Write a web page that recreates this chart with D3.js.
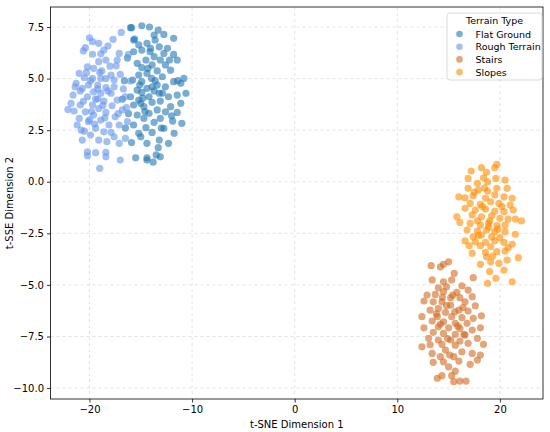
<!DOCTYPE html>
<html><head><meta charset="utf-8">
<script src="https://cdn.jsdelivr.net/npm/d3@7"></script>
<style>body{margin:0;background:#fff}svg{display:block}</style>
</head><body>
<script>
const categories = ["Flat Ground","Rough Terrain","Stairs","Slopes"];
const colors = ["#1f77b4","#6495ED","#D2691E","#FF8C00"];
const xTicks = [-20,-10,0,10,20];
const yTicks = [-10,-7.5,-5,-2.5,0,2.5,5,7.5];

const flatGround = [
[-15.9,7.47],[-14.9,7.56],[-14.15,7.5],[-13.3,7.35],[-12.75,7.14],[-13.7,7.11],[-11.8,6.95],[-15.6,6.92],[-13.6,6.87],[-14.4,6.71],
[-15.2,6.63],[-13.2,6.54],[-14.05,6.47],[-12.4,6.47],[-15.7,6.3],[-14.9,6.38],[-12.75,6.22],[-11.8,6.17],[-13.7,6.06],[-14.5,5.9],
[-13.1,5.9],[-11.45,5.9],[-15.35,5.74],[-12.6,5.66],[-13.9,5.66],[-14.9,5.53],[-12.1,5.41],[-13.4,5.37],[-14.4,5.25],[-15.2,5.17],
[-12.9,5.09],[-13.95,5.01],[-10.8,5.01],[-15.8,4.93],[-14.9,4.85],[-11.8,4.85],[-11.1,4.77],[-13.4,4.69],[-12.6,4.6],[-14.4,4.53],
[-15.35,4.44],[-13.7,4.4],[-14.9,4.33],[-13.2,4.29],[-10.6,4.29],[-11.45,4.2],[-16.0,4.12],[-14.2,4.12],[-12.3,4.12],[-15.2,3.96],
[-13.1,3.91],[-13.9,3.85],[-11.1,3.8],[-15.7,3.72],[-14.7,3.64],[-12.1,3.64],[-13.4,3.48],[-14.2,3.32],[-12.6,3.39],[-11.45,3.36],
[-15.35,3.23],[-14.7,3.07],[-13.1,3.07],[-11.9,2.94],[-13.7,2.88],[-11.0,2.83],[-15.7,2.75],[-14.5,2.62],[-12.75,2.59],[-15.2,2.35],
[-13.9,2.39],[-11.75,2.35],[-15.0,2.18],[-13.2,2.02],[-14.4,1.86],[-12.3,1.86],[-13.3,1.65],[-15.5,1.16],[-14.4,1.16],[-13.1,1.21],
[-16.0,7.47],[-15.7,6.87],[-14.4,1.05],[-13.8,0.95],[-16.3,6.0],[-16.6,4.9],[-16.2,3.3],[-16.5,2.6],[-15.9,1.9],[-16.8,4.0],
[-15.0,3.8],[-13.6,4.9],[-14.3,5.5],[-12.9,4.3],[-14.6,3.4],[-13.0,2.6],[-14.1,6.3],[-12.2,5.9],[-15.1,4.7],[-13.9,4.6],
[-14.8,4.05],[-12.0,3.2],[-11.4,4.9],[-13.5,1.3]
];
const roughTerrain = [
[-16.9,7.24],[-20.0,6.98],[-19.7,6.79],[-19.1,6.71],[-18.2,6.59],[-18.6,6.38],[-20.6,6.34],[-19.7,6.18],[-17.1,6.22],[-16.2,6.18],
[-18.4,5.9],[-19.1,5.82],[-20.2,5.57],[-17.4,5.62],[-19.6,5.5],[-18.8,5.37],[-21.0,5.25],[-17.9,5.17],[-17.0,5.2],[-20.5,5.04],
[-19.7,5.01],[-18.9,5.01],[-17.6,4.93],[-21.3,4.77],[-20.1,4.69],[-19.2,4.69],[-16.0,4.88],[-18.4,4.56],[-20.7,4.53],[-19.6,4.36],
[-18.9,4.29],[-17.9,4.29],[-21.6,4.2],[-20.2,4.12],[-16.5,4.12],[-19.2,4.01],[-18.6,3.91],[-17.3,3.96],[-20.9,3.72],[-19.7,3.72],
[-17.8,3.68],[-19.1,3.55],[-21.5,3.43],[-20.4,3.39],[-16.8,3.48],[-18.4,3.36],[-19.6,3.23],[-17.5,3.15],[-21.0,3.07],[-18.9,2.99],
[-20.1,2.91],[-16.3,2.91],[-21.2,2.75],[-18.1,2.75],[-17.1,2.75],[-19.4,2.59],[-20.5,2.45],[-18.6,2.42],[-19.9,2.26],[-17.6,2.18],
[-20.7,2.02],[-19.1,2.02],[-16.5,2.1],[-18.3,1.94],[-17.1,1.86],[-20.2,1.45],[-19.4,1.41],[-18.4,1.43],[-18.4,1.21],[-20.2,1.26],
[-17.0,1.05],[-19.0,0.65],
[-19.9,4.9],[-18.2,4.4],[-19.4,4.0],[-20.6,3.9],[-18.7,3.7],[-17.6,4.6],[-19.8,3.4],[-18.5,3.1],[-20.9,4.4],[-17.2,3.3],
[-19.0,5.3],[-20.3,5.3],[-18.0,5.6],[-21.8,3.8],[-16.7,4.5],[-19.5,2.8],[-20.8,2.5],[-17.9,2.4],[-18.9,6.2],[-21.4,4.6],
[-19.2,4.5],[-18.4,5.0],[-20.0,3.0],[-17.3,5.9],[-16.4,3.6],[-22.1,3.5],[-20.4,6.5],[-17.7,6.9]
];
const stairs = [
[13.3,-4.07],[14.2,-4.13],[15.0,-3.88],[14.5,-4.0],[15.55,-4.44],[17.4,-4.65],[13.4,-4.76],[14.5,-4.85],[15.3,-4.76],[16.3,-5.04],
[14.0,-5.14],[14.8,-5.09],[12.9,-5.49],[13.7,-5.46],[14.5,-5.33],[15.8,-5.36],[16.9,-5.25],[17.3,-5.57],[15.2,-5.62],[16.1,-5.62],
[14.35,-5.82],[13.5,-5.82],[16.6,-5.82],[12.6,-5.78],[15.2,-5.98],[17.6,-6.01],[14.0,-6.14],[16.0,-6.22],[13.2,-6.22],[16.9,-6.27],
[14.7,-6.33],[12.4,-6.54],[18.2,-6.5],[13.9,-6.54],[15.3,-6.54],[16.3,-6.59],[17.4,-6.62],[13.4,-6.75],[14.5,-6.79],[15.65,-6.86],
[16.8,-6.86],[12.6,-7.08],[14.0,-7.03],[15.0,-7.08],[16.1,-7.11],[18.1,-7.08],[17.3,-7.19],[13.5,-7.3],[14.5,-7.35],[15.65,-7.4],
[16.6,-7.43],[13.05,-7.59],[14.0,-7.67],[15.2,-7.67],[16.1,-7.72],[17.8,-7.59],[14.35,-7.88],[16.9,-7.83],[15.65,-7.92],[12.4,-8.0],
[18.4,-7.88],[14.7,-8.16],[13.4,-8.32],[16.3,-8.24],[17.3,-8.32],[14.2,-8.48],[15.5,-8.48],[18.1,-8.4],[13.5,-8.75],[14.5,-8.73],
[16.0,-8.69],[17.1,-8.85],[17.8,-8.64],[15.0,-8.97],[15.65,-9.18],[14.35,-9.4],[13.9,-9.53],[15.3,-9.4],[15.5,-9.69],[16.1,-9.66],
[16.7,-9.66],
[14.8,-6.0],[15.6,-6.3],[14.2,-6.9],[15.9,-7.0],[14.9,-7.6],[15.4,-5.5],[13.8,-6.4],[16.5,-7.4],[15.1,-8.4],[14.4,-5.6],
[16.4,-6.1],[13.2,-7.9]
];
const slopes = [
[19.7,0.84],[19.5,0.68],[18.2,0.68],[17.2,0.52],[18.7,0.46],[16.9,0.16],[18.4,0.19],[19.6,0.16],[20.5,0.08],[17.8,-0.08],
[18.8,0.0],[16.9,-0.32],[17.9,-0.4],[18.8,-0.45],[19.7,-0.32],[20.7,-0.32],[16.0,-0.73],[16.6,-0.78],[17.4,-0.68],[18.6,-0.8],
[19.5,-0.64],[20.4,-0.73],[21.2,-0.8],[17.1,-1.05],[18.1,-1.1],[19.1,-0.97],[19.9,-1.05],[21.0,-1.13],[16.6,-1.29],[17.6,-1.37],
[18.6,-1.32],[19.5,-1.42],[20.4,-1.45],[21.3,-1.37],[17.3,-1.61],[18.2,-1.7],[19.2,-1.65],[15.8,-1.7],[20.0,-1.77],[20.8,-1.81],
[22.1,-1.9],[21.5,-1.81],[16.1,-1.97],[17.1,-2.02],[18.1,-2.1],[18.9,-2.02],[19.7,-2.13],[20.5,-2.1],[16.8,-2.34],[17.8,-2.39],
[18.7,-2.34],[19.5,-2.42],[20.5,-2.42],[21.5,-2.55],[18.2,-2.58],[17.4,-2.67],[19.2,-2.67],[20.0,-2.71],[16.6,-2.87],[17.6,-2.91],
[18.6,-2.94],[19.5,-2.87],[20.4,-2.94],[21.2,-3.03],[17.0,-3.1],[18.1,-3.1],[19.1,-3.15],[20.8,-3.2],[17.3,-3.47],[18.6,-3.42],
[19.7,-3.39],[20.5,-3.36],[18.7,-3.64],[20.7,-3.8],[18.1,-4.0],[19.1,-3.88],[21.8,-3.68],[19.9,-3.96],[19.0,-4.36],[20.4,-4.28],
[19.6,-4.68],[21.2,-4.85],[18.8,-4.92],
[18.3,-1.2],[19.0,-1.9],[17.9,-2.6],[19.8,-2.3],[18.5,-0.3],[19.3,-3.6],[17.5,-0.5],[20.2,-1.2],[18.9,-2.2],[17.8,-1.9]
];
const seriesData = [flatGround, roughTerrain, stairs, slopes];

const W = 550, H = 432;
const m = {left:50.5, right:543, top:7, bottom:399};
const x = d3.scaleLinear().domain([-23.8, 24.2]).range([m.left, m.right]);
const y = d3.scaleLinear().domain([-10.53, 8.47]).range([m.bottom, m.top]);

const svg = d3.select("body").append("svg").attr("width", W).attr("height", H)
  .style("font-family","'DejaVu Sans', sans-serif");

// grid
const g = svg.append("g");
g.selectAll(".gx").data(xTicks).join("line")
  .attr("x1", d=>x(d)).attr("x2", d=>x(d)).attr("y1", m.top).attr("y2", m.bottom)
  .attr("stroke","#b0b0b0").attr("stroke-opacity",0.45).attr("stroke-width",0.8).attr("stroke-dasharray","3,3");
g.selectAll(".gy").data(yTicks).join("line")
  .attr("y1", d=>y(d)).attr("y2", d=>y(d)).attr("x1", m.left).attr("x2", m.right)
  .attr("stroke","#b0b0b0").attr("stroke-opacity",0.45).attr("stroke-width",0.8).attr("stroke-dasharray","3,3");

// points
seriesData.forEach((data, i) => {
  svg.append("g").selectAll("circle").data(data).join("circle")
    .attr("cx", d=>x(d[0])).attr("cy", d=>y(d[1])).attr("r", 3.6)
    .attr("fill", colors[i]).attr("fill-opacity", 0.6);
});

// axes
const xAxis = svg.append("g").attr("transform", `translate(0,${m.bottom})`)
  .call(d3.axisBottom(x).tickValues(xTicks).tickSize(3.5).tickPadding(3).tickFormat(d => d < 0 ? "\u2212" + Math.abs(d) : d));
const yAxis = svg.append("g").attr("transform", `translate(${m.left},0)`)
  .call(d3.axisLeft(y).tickValues(yTicks).tickSize(3.5).tickPadding(3).tickFormat(d => (d < 0 ? "\u2212" : "") + Math.abs(d).toFixed(1)));
[xAxis, yAxis].forEach(a => {
  a.select(".domain").remove();
  a.selectAll("text").attr("font-size", 10).attr("fill","#000").style("font-family","'DejaVu Sans', sans-serif");
  a.selectAll("line").attr("stroke","#000").attr("stroke-width",0.8);
});

// frame
svg.append("rect").attr("x", m.left).attr("y", m.top).attr("width", m.right-m.left).attr("height", m.bottom-m.top)
  .attr("fill","none").attr("stroke","#000").attr("stroke-width",0.8);

// axis labels
svg.append("text").attr("x", (m.left+m.right)/2).attr("y", 428).attr("text-anchor","middle")
  .attr("font-size", 10).text("t-SNE Dimension 1");
svg.append("text").attr("transform", `translate(13,${(m.top+m.bottom)/2}) rotate(-90)`).attr("text-anchor","middle")
  .attr("font-size", 10).text("t-SSE Dimension 2");

// legend
const lg = svg.append("g");
lg.append("rect").attr("x", 447).attr("y", 13).attr("width", 95).attr("height", 67).attr("rx", 3)
  .attr("fill","#fff").attr("fill-opacity",0.8).attr("stroke","#d0d0d0").attr("stroke-width",0.8);
lg.append("text").attr("x", 494.5).attr("y", 24).attr("text-anchor","middle").attr("font-size", 9.5).text("Terrain Type");
categories.forEach((c, i) => {
  const yy = 34 + i*12.7;
  lg.append("circle").attr("cx", 459.5).attr("cy", yy).attr("r", 3.3).attr("fill", colors[i]).attr("fill-opacity",0.6);
  lg.append("text").attr("x", 475.5).attr("y", yy + 3.5).attr("font-size", 9.5).text(c);
});
</script>
</body></html>
